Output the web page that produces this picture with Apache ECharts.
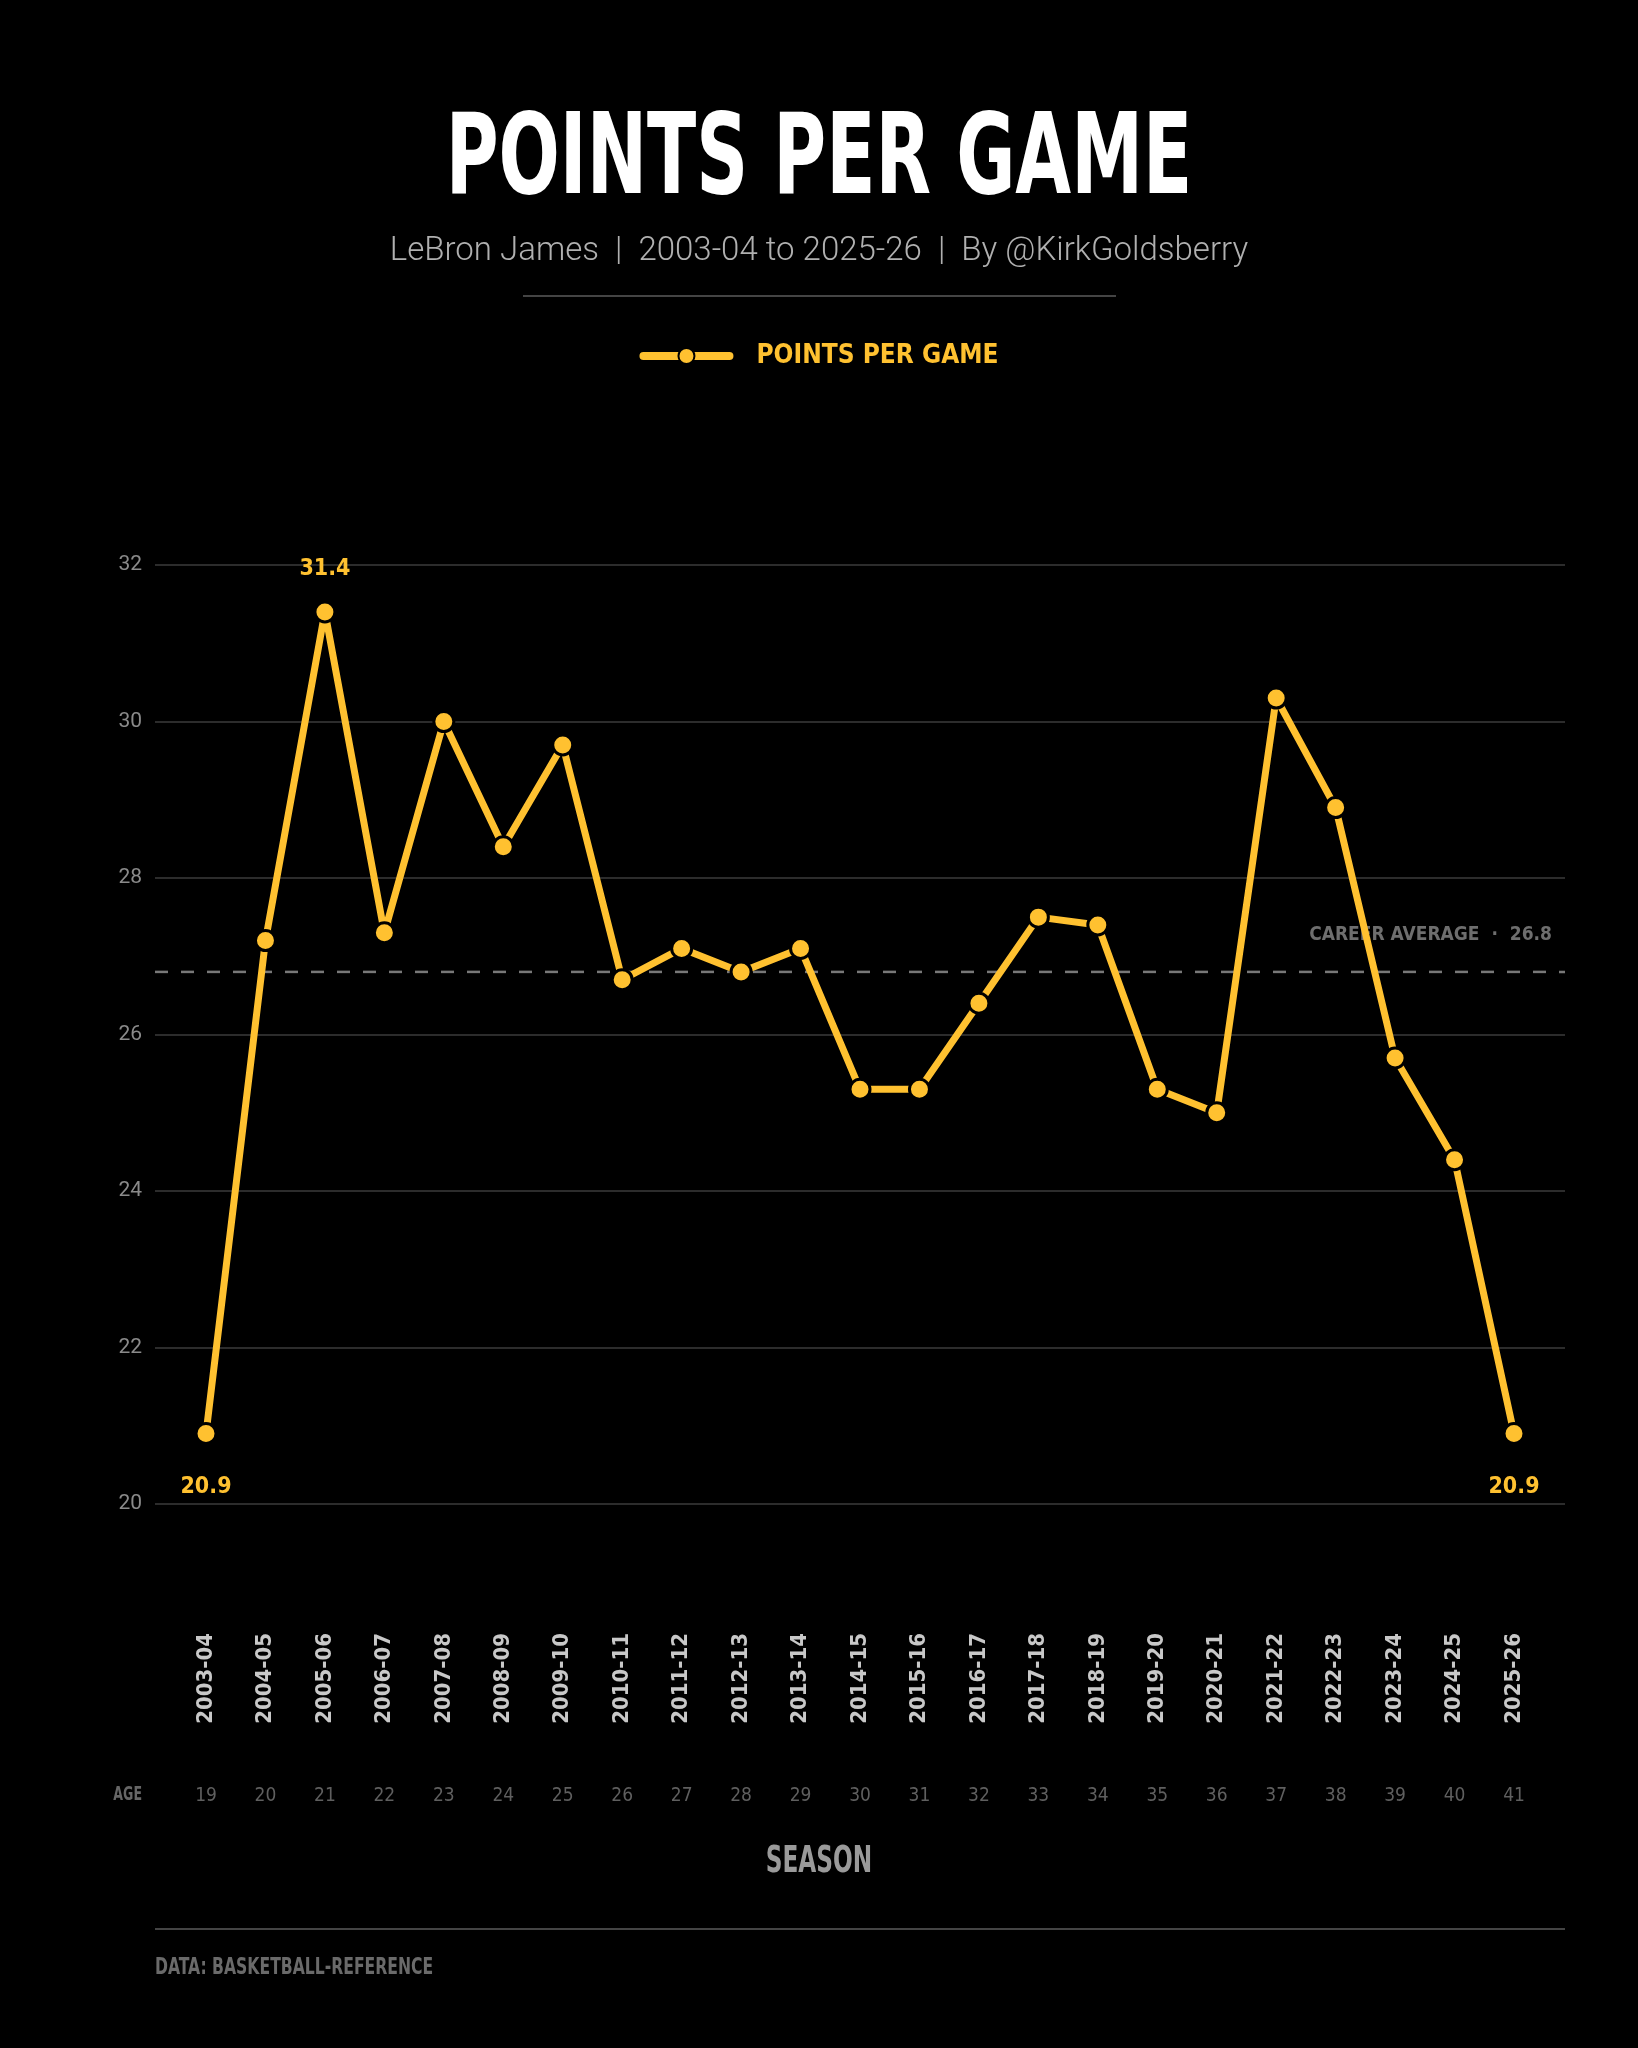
<!DOCTYPE html>
<html>
<head>
<meta charset="utf-8">
<title>Points per game</title>
<script src="https://cdn.jsdelivr.net/npm/echarts@6/dist/echarts.min.js"></script>
<style>
  html, body { margin: 0; padding: 0; background: #000; }
  #main { width: 1638px; height: 2048px; }
</style>
</head>
<body>
<div id="main"></div>
<script>
  var seasons = ['2003-04', '2004-05', '2005-06', '2006-07', '2007-08', '2008-09', '2009-10', '2010-11',
                 '2011-12', '2012-13', '2013-14', '2014-15', '2015-16', '2016-17', '2017-18', '2018-19',
                 '2019-20', '2020-21', '2021-22', '2022-23', '2023-24', '2024-25', '2025-26'];
  var ages = [19, 20, 21, 22, 23, 24, 25, 26, 27, 28, 29, 30, 31, 32, 33, 34, 35, 36, 37, 38, 39, 40, 41];
  var ppg = [20.9, 27.2, 31.4, 27.3, 30.0, 28.4, 29.7, 26.7, 27.1, 26.8, 27.1, 25.3,
             25.3, 26.4, 27.5, 27.4, 25.3, 25.0, 30.3, 28.9, 25.7, 24.4, 20.9];
  var careerAvg = 26.8;
  var labelled = [0, 2, 22];   // points that carry a value label

  var gold = '#FFC130';
  var NARROW = "'Liberation Sans Narrow', 'DejaVu Sans Condensed', 'Arial Narrow', sans-serif";
  var PLAIN = "Roboto, 'Noto Sans', sans-serif";

  var chart = echarts.init(document.getElementById('main'), null, { renderer: 'canvas' });

  var peak = Math.max.apply(null, ppg);
  var ppgData = ppg.map(function (v, i) {
    var item = { value: v };
    if (labelled.indexOf(i) >= 0) {
      var up = (v === peak);
      item.label = {
        show: true,
        position: up ? 'top' : 'bottom',
        distance: up ? 20 : 30,
        formatter: v.toFixed(1),
        color: gold,
        fontFamily: NARROW,
        fontWeight: 'bold',
        fontSize: 23
      };
    }
    return item;
  });

  var option = {
    backgroundColor: '#000',
    animation: false,
    legend: {
      data: ['POINTS PER GAME'],
      top: 338,
      left: 'center',
      itemWidth: 86,
      itemHeight: 20,
      selectedMode: false,
      lineStyle: { width: 8, cap: 'round' },
      textStyle: {
        color: gold,
        fontFamily: NARROW,
        fontWeight: 'bold',
        fontSize: 26,
        padding: [0, 0, 0, 22]
      }
    },
    grid: [
      { left: 155, top: 565, width: 1410, height: 939 },
      { left: 206, top: 565, width: 1308, height: 939 }
    ],
    xAxis: [
      { gridIndex: 0, type: 'value', min: 0, max: 1, show: false },
      {
        gridIndex: 1, type: 'category', boundaryGap: false, data: seasons,
        axisLine: { show: false }, axisTick: { show: false },
        axisLabel: {
          interval: 0, rotate: 90, margin: 129,
          color: '#c8c8c8', fontFamily: NARROW, fontWeight: 'bold', fontSize: 22
        }
      },
      {
        gridIndex: 1, type: 'category', boundaryGap: false, data: ages, position: 'bottom',
        axisLine: { show: false }, axisTick: { show: false },
        axisLabel: { interval: 0, margin: 283, color: '#5f5f5f', fontFamily: NARROW, fontSize: 19 }
      }
    ],
    yAxis: [
      {
        gridIndex: 0, type: 'value', min: 20, max: 32, interval: 2,
        axisLine: { show: false }, axisTick: { show: false },
        splitLine: { lineStyle: { color: '#2c2c2c', width: 2 } },
        axisLabel: { margin: 13, color: '#8a8a8a', fontFamily: PLAIN, fontSize: 21 }
      },
      { gridIndex: 1, type: 'value', min: 20, max: 32, interval: 2, show: false }
    ],
    series: [
      {
        name: 'Career average',
        type: 'line',
        xAxisIndex: 0, yAxisIndex: 0,
        data: [[0, careerAvg], [1, careerAvg]],
        symbol: 'none',
        silent: true,
        z: 1,
        lineStyle: { color: '#787878', width: 2.5, type: [13, 13] },
        endLabel: {
          show: true,
          formatter: 'CAREER AVERAGE  \u00b7  ' + careerAvg.toFixed(1),
          align: 'right',
          distance: 0,
          offset: [-13, -37],
          color: '#6e6e6e',
          fontFamily: NARROW,
          fontWeight: 'bold',
          fontSize: 19
        }
      },
      {
        name: 'POINTS PER GAME',
        type: 'line',
        xAxisIndex: 1, yAxisIndex: 1,
        data: ppgData,
        symbol: 'circle',
        symbolSize: 20,
        z: 3,
        lineStyle: { color: gold, width: 7 },
        itemStyle: { color: gold, borderColor: '#000', borderWidth: 3 }
      }
    ],
    graphic: [
      {
        type: 'text', x: 819, y: 164, scaleX: 0.716,
        style: { text: 'POINTS PER GAME', fill: '#fff', align: 'center', verticalAlign: 'middle',
                 font: 'bold 112px ' + NARROW }
      },
      {
        type: 'text', x: 819, y: 252,
        style: { text: 'LeBron James  |  2003-04 to 2025-26  |  By @KirkGoldsberry', fill: '#b0b0b0',
                 align: 'center', verticalAlign: 'middle', font: '300 33px ' + PLAIN }
      },
      {
        type: 'line', shape: { x1: 523, y1: 296, x2: 1116, y2: 296 },
        style: { stroke: '#444', lineWidth: 2 }
      },
      {
        type: 'text', x: 142, y: 1795, scaleX: 0.7,
        style: { text: 'AGE', fill: '#666', align: 'right', verticalAlign: 'middle',
                 font: 'bold 20px ' + NARROW }
      },
      {
        type: 'text', x: 819, y: 1862, scaleX: 0.68,
        style: { text: 'SEASON', fill: '#9a9a9a', align: 'center', verticalAlign: 'middle',
                 font: 'bold 38px ' + NARROW }
      },
      {
        type: 'line', shape: { x1: 155, y1: 1929, x2: 1565, y2: 1929 },
        style: { stroke: '#444', lineWidth: 2 }
      },
      {
        type: 'text', x: 155, y: 1968, scaleX: 0.755,
        style: { text: 'DATA: BASKETBALL-REFERENCE', fill: '#6a6a6a', align: 'left', verticalAlign: 'middle',
                 font: 'bold 23px ' + NARROW }
      }
    ]
  };

  chart.setOption(option);
</script>
</body>
</html>
